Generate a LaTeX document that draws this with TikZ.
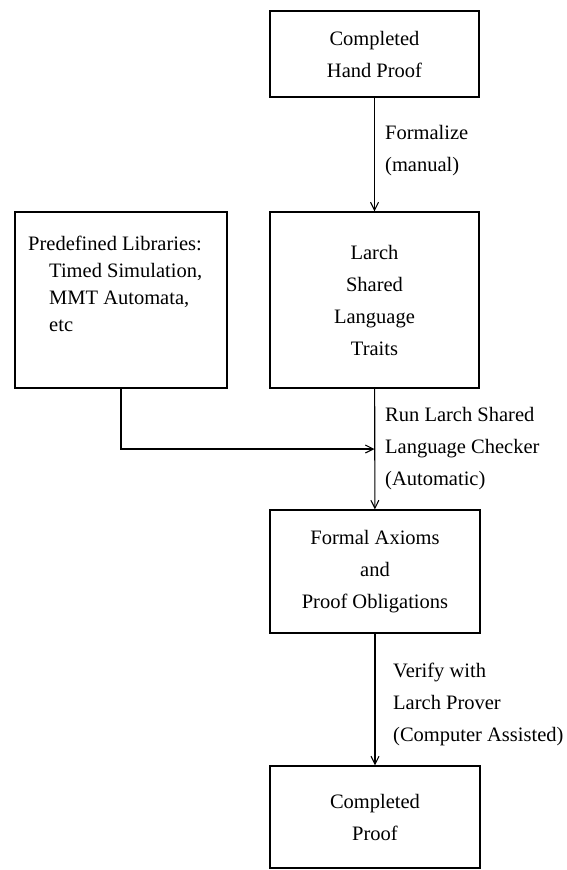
\documentclass[tikz,border=0pt]{standalone}
\usepackage{fontspec}
\setmainfont{Liberation Serif}
\usetikzlibrary{arrows.meta}

\tikzset{
    box/.style={draw, line width=1.1pt, inner sep=0pt, align=center,
        font=\fontsize{20.5}{32}\selectfont},
    lbl/.style={anchor=west, inner sep=0pt, align=left,
        font=\fontsize{20.5}{32}\selectfont},
    flow/.style={draw, line width=1.1pt, -{Straight Barb[length=8pt,width=8pt,line width=1.1pt]}}
}

\begin{document}
\begin{tikzpicture}[x=1pt, y=-1pt]
    \useasboundingbox (0,0) rectangle (566,870);

    % boxes of the main column
    \node [box, minimum width=209pt, minimum height=86pt] (hand) at (374.5,54) {Completed\\Hand Proof};
    \node [box, minimum width=209pt, minimum height=176pt] (larch) at (374.5,300) {Larch\\Shared\\Language\\Traits};
    \node [box, minimum width=210pt, minimum height=123pt] (formal) at (375,571.5) {Formal Axioms\\and\\Proof Obligations};
    \node [box, minimum width=210pt, minimum height=102pt] (done) at (375,817) {Completed\\Proof};

    % library box on the left
    \node [box, minimum width=212pt, minimum height=176pt] (lib) at (121,300) {};
    \node [anchor=north west, inner sep=0pt, align=left,
        font=\fontsize{20.5}{27}\selectfont] (libtext) at (28,236)
        {Predefined Libraries:\\
         \hspace*{21pt}Timed Simulation,\\
         \hspace*{21pt}MMT Automata,\\
         \hspace*{21pt}etc};

    \coordinate (join) at (larch.south |- 0,449);

    % connectors
    \draw [flow] (hand) -- (larch);
    \draw [flow] (larch) -- (formal);
    \draw [flow] (lib.south) |- (join);
    \draw [flow] (formal) -- (done);

    % step labels
    \node [lbl] (formalize) at (385,151) {Formalize\\(manual)};
    \node [lbl] (check) at (385,449) {Run Larch Shared\\Language Checker\\(Automatic)};
    \node [lbl] (verify) at (393,704) {Verify with\\Larch Prover\\(Computer Assisted)};
\end{tikzpicture}
\end{document}
